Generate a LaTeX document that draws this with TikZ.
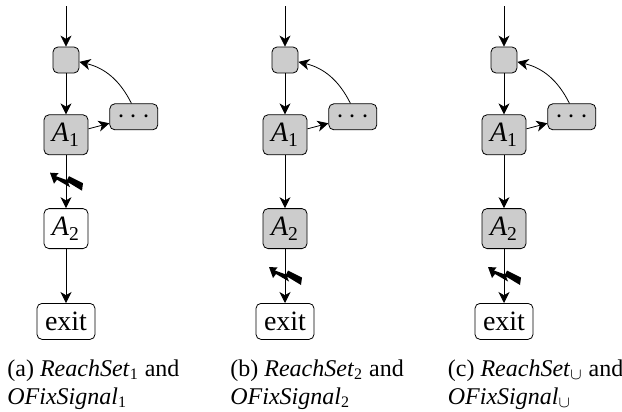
\documentclass[tikz,border=0pt]{standalone}
\usepackage{fontspec}
\setmainfont{Liberation Serif}
\usetikzlibrary{positioning,arrows.meta}

\begin{document}
\begin{tikzpicture}[x=0.5pt,y=0.5pt]
          \tikzset{>={Stealth[inset=1.6pt,length=5.5pt,width=5.5pt]}}
          \tikzset{Box/.style = {draw, rounded corners=2.5pt, fill=black!20, inner sep=0pt, font=\fontsize{14}{16}\selectfont}}
          \tikzset{Head/.style = {Box, minimum width=13pt, minimum height=13pt}}
          \tikzset{Stmt/.style = {Box, minimum width=22pt, minimum height=20pt}}
          \tikzset{Rest/.style = {Box, minimum width=24pt, minimum height=13pt}}
          \tikzset{Exit/.style = {Box, fill=white, minimum width=29pt, minimum height=18pt}}
          \tikzset{Cap/.style = {anchor=north west, inner sep=0pt, align=left, font=\fontsize{12}{14}\selectfont}}
          \tikzset{Crash/.pic = {
            \fill (-16,9) -- (-7.5,8.5) -- (-10,5.5) -- (1,1.5) -- (3,5.5) -- (17,-1.5) -- (16,-9)
              -- (2,-0.5) -- (4,-5.5) -- (-9,2) -- (-12,-2) -- cycle;
          }}
          \useasboundingbox (0,0) rectangle (622,-412);

          % (a)
          \coordinate (ina) at (66,-6);
          \node[Head] (heada) at (66,-60) {};
          \node[Stmt, below=20.5pt of heada] (Aonea) {\textit{A}\textsubscript{1}};
          \node[Stmt, fill=white, below=26.5pt of Aonea] (Atwoa) {\textit{A}\textsubscript{2}};
          \node[Exit, below=27pt of Atwoa] (exita) {exit};
          \node[Rest, right=10.5pt of Aonea.east, anchor=west, yshift=9pt] (resta) {$\cdots$};
          \draw[->] (ina) -- (heada);
          \draw[->] (heada) -- (Aonea);
          \draw[->] (Aonea) -- (resta);
          \draw[->] (resta.100) to[bend right=25] (heada.-8);
          \draw[->] (Aonea) -- (Atwoa);
          \draw[->] (Atwoa) -- (exita);
          \path (Aonea.south) -- (Atwoa.north) pic[midway] {Crash};
          \node[Cap] (capa) at (7,-359) {(a) \textit{ReachSet}\textsubscript{1} and\\\textit{OFixSignal}\textsubscript{1}};

          % (b)
          \coordinate (inb) at (285,-6);
          \node[Head] (headb) at (285,-60) {};
          \node[Stmt, below=20.5pt of headb] (Aoneb) {\textit{A}\textsubscript{1}};
          \node[Stmt, below=26.5pt of Aoneb] (Atwob) {\textit{A}\textsubscript{2}};
          \node[Exit, below=27pt of Atwob] (exitb) {exit};
          \node[Rest, right=10.5pt of Aoneb.east, anchor=west, yshift=9pt] (restb) {$\cdots$};
          \draw[->] (inb) -- (headb);
          \draw[->] (headb) -- (Aoneb);
          \draw[->] (Aoneb) -- (restb);
          \draw[->] (restb.100) to[bend right=25] (headb.-8);
          \draw[->] (Aoneb) -- (Atwob);
          \draw[->] (Atwob) -- (exitb);
          \path (Atwob.south) -- (exitb.north) pic[midway] {Crash};
          \node[Cap] (capb) at (230,-359) {(b) \textit{ReachSet}\textsubscript{2} and\\\textit{OFixSignal}\textsubscript{2}};

          % (c)
          \coordinate (inc) at (504,-6);
          \node[Head] (headc) at (504,-60) {};
          \node[Stmt, below=20.5pt of headc] (Aonec) {\textit{A}\textsubscript{1}};
          \node[Stmt, below=26.5pt of Aonec] (Atwoc) {\textit{A}\textsubscript{2}};
          \node[Exit, below=27pt of Atwoc] (exitc) {exit};
          \node[Rest, right=10.5pt of Aonec.east, anchor=west, yshift=9pt] (restc) {$\cdots$};
          \draw[->] (inc) -- (headc);
          \draw[->] (headc) -- (Aonec);
          \draw[->] (Aonec) -- (restc);
          \draw[->] (restc.100) to[bend right=25] (headc.-8);
          \draw[->] (Aonec) -- (Atwoc);
          \draw[->] (Atwoc) -- (exitc);
          \path (Atwoc.south) -- (exitc.north) pic[midway] {Crash};
          \node[Cap] (capc) at (447.5,-359) {(c) \textit{ReachSet}$_\cup$ and\\\textit{OFixSignal}$_\cup$};
        \end{tikzpicture}
\end{document}
